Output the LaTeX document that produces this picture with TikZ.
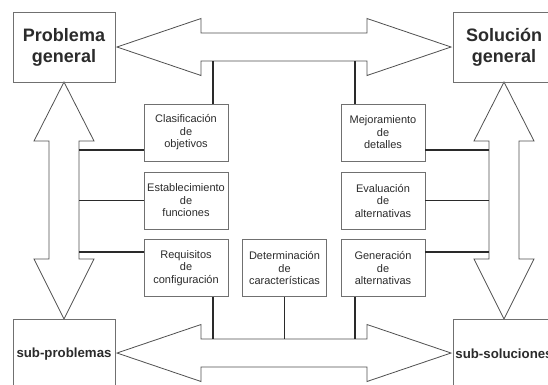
\documentclass[tikz,border=0pt]{standalone}
\usepackage{fontspec}
\setmainfont{Liberation Sans}
\definecolor{txt}{HTML}{2B2B2B}
\definecolor{boxgray}{HTML}{707070}
\definecolor{arrowgray}{HTML}{505050}
\definecolor{conngray}{HTML}{2A2A2A}
\begin{document}
\begin{tikzpicture}[x=1pt,y=-1pt,
  smallbox/.style={draw=boxgray, line width=0.8pt, minimum width=84pt, minimum height=57pt,
    inner sep=0pt, align=center, font=\fontsize{11}{12.5}\selectfont, text=txt},
  bigbox/.style={draw=boxgray, line width=0.8pt, minimum width=102pt, minimum height=70pt,
    inner sep=0pt, align=center, text=txt},
  bigarrow/.style={draw=arrowgray, line width=0.8pt, fill=white, line join=miter},
  conn/.style={draw=conngray, line width=1.3pt}]
\useasboundingbox (0,0) rectangle (548,384);
\clip (0,0) rectangle (548,384);
\fill[white] (0,0) rectangle (548,384);

% big double arrows
\draw[bigarrow] (117,47) -- (201,18.5) -- (201,33) -- (367,33) -- (367,18.5) -- (451,47)
  -- (367,75.5) -- (367,61) -- (201,61) -- (201,75.5) -- cycle;
\draw[bigarrow] (117,353) -- (201,324.5) -- (201,339) -- (367,339) -- (367,324.5) -- (451,353)
  -- (367,381.5) -- (367,367) -- (201,367) -- (201,381.5) -- cycle;
\draw[bigarrow] (64,82) -- (94,141) -- (79,141) -- (79,259) -- (94,259) -- (64,319)
  -- (34,259) -- (49,259) -- (49,141) -- (34,141) -- cycle;
\draw[bigarrow] (504,82) -- (534,141) -- (519,141) -- (519,259) -- (534,259) -- (504,319)
  -- (474,259) -- (489,259) -- (489,141) -- (474,141) -- cycle;

% corner boxes
\node[bigbox, font=\fontsize{18}{21}\selectfont\bfseries] (prob) at (64,47) {Problema\\general};
\node[bigbox, font=\fontsize{18}{21}\selectfont\bfseries] (sol) at (504,47) {Solución\\general};
\node[bigbox, font=\fontsize{13.25}{15}\selectfont\bfseries] (subp) at (64,354) {sub-problemas};
\node[bigbox, font=\fontsize{13.25}{15}\selectfont\bfseries] (subs) at (504,354) {sub-soluciones};

% small boxes
\node[smallbox] (clas) at (186,132.5) {Clasificación\\de\\objetivos};
\node[smallbox] (est) at (186,200.5) {Establecimiento\\de\\funciones};
\node[smallbox] (req) at (186,268) {Requisitos\\de\\configuración};
\node[smallbox] (det) at (284.5,268) {Determinación\\de\\características};
\node[smallbox] (mej) at (383,132.5) {Mejoramiento\\de\\detalles};
\node[smallbox] (eva) at (383,200.5) {Evaluación\\de\\alternativas};
\node[smallbox] (gen) at (383,268) {Generación\\de\\alternativas};

% connector ends on the big arrows
\coordinate (tA) at (213,61);
\coordinate (tB) at (355,61);
\coordinate (bA) at (213,339);
\coordinate (bB) at (284.5,339);
\coordinate (bC) at (355,339);
\coordinate (lA) at (79,150);
\coordinate (lB) at (79,200.5);
\coordinate (lC) at (79,252);
\coordinate (rA) at (489,150);
\coordinate (rB) at (489,200.5);
\coordinate (rC) at (489,252);

\draw[conn] (tA) -- (tA |- clas.north);
\draw[conn] (tB) -- (tB |- mej.north);
\draw[conn] (req.south -| bA) -- (bA);
\draw[conn] (det.south) -- (bB);
\draw[conn] (gen.south -| bC) -- (bC);
\draw[conn] (lA) -- (lA -| clas.west);
\draw[conn] (lB) -- (est.west);
\draw[conn] (lC) -- (lC -| req.west);
\draw[conn] (rA) -- (rA -| mej.east);
\draw[conn] (rB) -- (eva.east);
\draw[conn] (rC) -- (rC -| gen.east);
\end{tikzpicture}
\end{document}
